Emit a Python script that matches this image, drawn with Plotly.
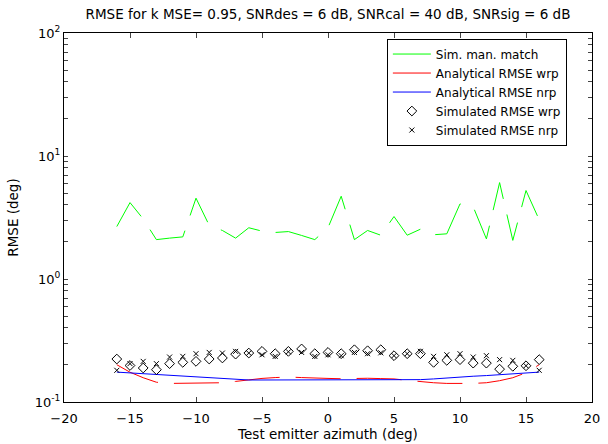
import plotly.graph_objects as go

azimuth = [-16, -15, -14, -13, -12, -11, -10, -9, -8, -7, -6, -5, -4, -3, -2, -1, 0,
           1, 2, 3, 4, 5, 6, 7, 8, 9, 10, 11, 12, 13, 14, 15, 16]

sim_man_match = [2.67, 4.18, 3.08, 2.09, 2.15, 2.20, 4.54, 2.73, 2.48, 2.15, 2.61, 2.45, 2.39,
                 2.43, 2.26, 2.09, 2.61, 4.71, 2.09, 2.48, 2.27, 3.22, 2.27, 2.54, 2.29, 2.33,
                 4.08, 3.86, 2.12, 6.08, 2.06, 5.24, 3.03]

analytical_wrp = [0.201, 0.1746, 0.1575, 0.1448, 0.1416, 0.1416, 0.1416, 0.142, 0.1434, 0.147,
                  0.1518, 0.1555, 0.158, 0.1596, 0.158, 0.156, 0.1555, 0.1545, 0.156, 0.156,
                  0.155, 0.154, 0.150, 0.146, 0.1434, 0.1416, 0.1413, 0.1416, 0.1434, 0.149,
                  0.1575, 0.173, 0.201]

analytical_nrp = [0.175, 0.1725, 0.170, 0.1665, 0.164, 0.162, 0.159, 0.157, 0.154, 0.152,
                  0.151, 0.151, 0.151, 0.151, 0.151, 0.151, 0.151, 0.151, 0.151, 0.151,
                  0.151, 0.151, 0.151, 0.152, 0.154, 0.157, 0.159, 0.162, 0.164, 0.1665,
                  0.170, 0.1725, 0.175]

simulated_wrp = [0.2235, 0.198, 0.189, 0.183, 0.205, 0.210, 0.214, 0.2235, 0.228, 0.245, 0.250,
                 0.258, 0.247, 0.258, 0.270, 0.247, 0.253, 0.247, 0.266, 0.261, 0.266, 0.238,
                 0.247, 0.247, 0.210, 0.218, 0.221, 0.207, 0.207, 0.185, 0.195, 0.197, 0.221]

simulated_nrp = [0.181, 0.205, 0.214, 0.205, 0.232, 0.235, 0.247, 0.253, 0.250, 0.258, 0.250,
                 0.242, 0.235, 0.256, 0.253, 0.235, 0.242, 0.238, 0.253, 0.247, 0.251, 0.238,
                 0.247, 0.258, 0.235, 0.242, 0.247, 0.232, 0.238, 0.221, 0.218, 0.197, 0.181]

x_ticks = [-20, -15, -10, -5, 0, 5, 10, 15, 20]
# decade labels plus unlabeled minor ticks (2..9 of each decade)
y_ticks = [0.1, 0.2, 0.3, 0.4, 0.5, 0.6, 0.7, 0.8, 0.9,
           1, 2, 3, 4, 5, 6, 7, 8, 9,
           10, 20, 30, 40, 50, 60, 70, 80, 90, 100]
y_ticktext = ["10<sup>-1</sup>", "", "", "", "", "", "", "", "",
              "10<sup>0</sup>", "", "", "", "", "", "", "", "",
              "10<sup>1</sup>", "", "", "", "", "", "", "", "", "10<sup>2</sup>"]

FONT = "DejaVu Sans, Liberation Sans, Arial, sans-serif"

fig = go.Figure()
fig.add_trace(go.Scatter(x=azimuth, y=sim_man_match, mode="lines", name="Sim. man. match",
                         line=dict(color="#00ff00", width=1, dash="45px,16px")))
fig.add_trace(go.Scatter(x=azimuth, y=analytical_wrp, mode="lines", name="Analytical RMSE wrp",
                         line=dict(color="#ff0000", width=1, dash="45px,16px")))
fig.add_trace(go.Scatter(x=azimuth, y=analytical_nrp, mode="lines", name="Analytical RMSE nrp",
                         line=dict(color="#0000ff", width=1)))
fig.add_trace(go.Scatter(x=azimuth, y=simulated_wrp, mode="markers", name="Simulated RMSE wrp",
                         marker=dict(symbol="diamond-open", size=7.5, color="black",
                                     line=dict(width=1, color="black"))))
fig.add_trace(go.Scatter(x=azimuth, y=simulated_nrp, mode="markers", name="Simulated RMSE nrp",
                         marker=dict(symbol="x-thin-open", size=5, color="black",
                                     line=dict(width=1, color="black"))))

fig.update_layout(
    width=608, height=444,
    margin=dict(l=64, r=16, t=33, b=42),
    paper_bgcolor="white", plot_bgcolor="white",
    font=dict(family=FONT, size=12, color="black"),
    title=dict(text="RMSE for k MSE= 0.95, SNRdes = 6 dB, SNRcal = 40 dB, SNRsig = 6 dB",
               x=0.5, xref="paper", xanchor="center", y=1 - 14 / 444, yanchor="middle",
               font=dict(family=FONT, size=13.5, color="black")),
    showlegend=True,
    legend=dict(x=0.6115, y=0.985, xanchor="left", yanchor="top",
                bgcolor="white", bordercolor="black", borderwidth=1, itemwidth=38,
                font=dict(family=FONT, size=12, color="black")),
    xaxis=dict(range=[-20, 20], tickvals=x_ticks, ticks="inside", ticklen=5,
               showline=True, linecolor="black", linewidth=1, mirror="ticks",
               showgrid=False, zeroline=False, tickfont=dict(size=13),
               ticklabelstandoff=4, automargin=False,
               title=dict(text="Test emitter azimuth (deg)", standoff=4, font=dict(size=13.5))),
    yaxis=dict(type="log", range=[-1, 2], tickvals=y_ticks, ticktext=y_ticktext,
               ticks="inside", ticklen=4, showline=True, linecolor="black", linewidth=1,
               mirror="ticks", showgrid=False, zeroline=False, tickfont=dict(size=13),
               automargin=False,
               title=dict(text="RMSE (deg)", standoff=13, font=dict(size=13.5))),
)

fig.write_html("out.html")
